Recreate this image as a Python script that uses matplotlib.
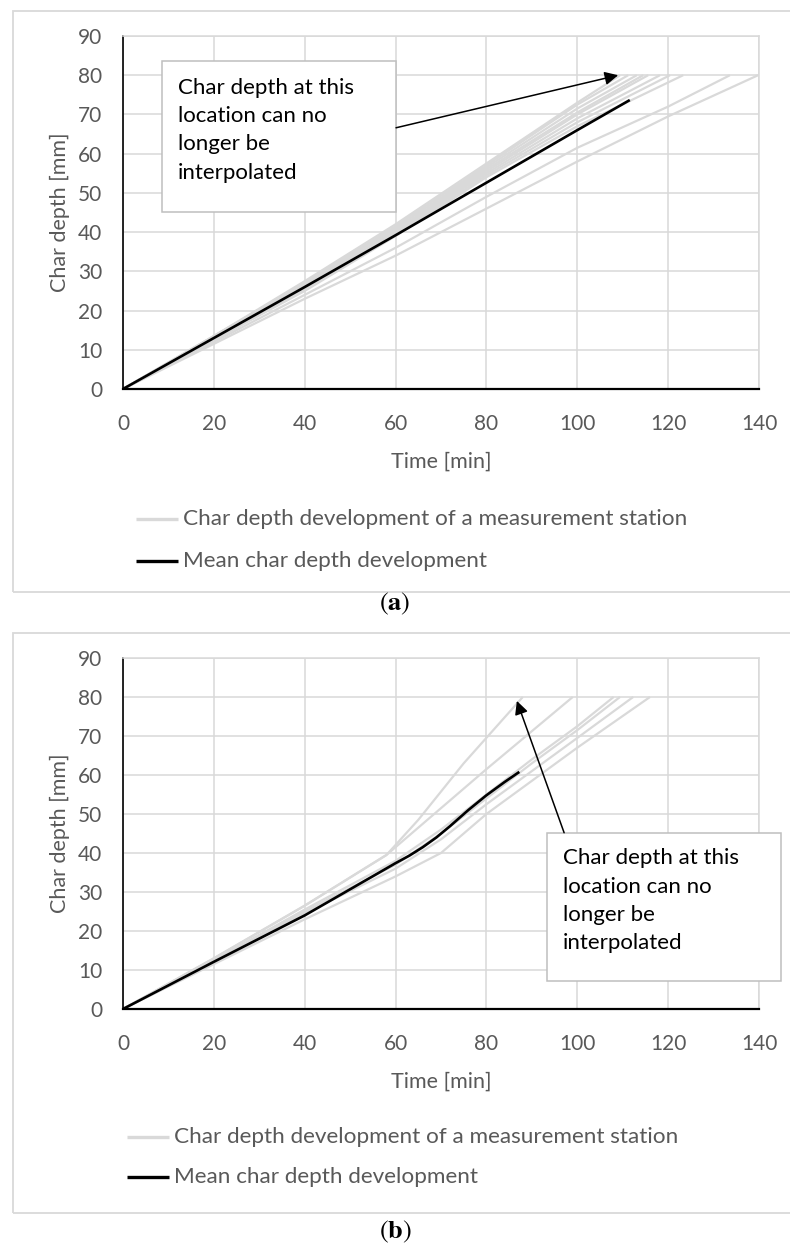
import matplotlib
matplotlib.use('Agg')
import matplotlib.pyplot as plt
from matplotlib.patches import Rectangle
from matplotlib.lines import Line2D

plt.rcParams['font.family'] = ['Lato', 'DejaVu Sans']
plt.rcParams['mathtext.fontset'] = 'stix'

# ---------------- data ----------------
x_ticks = [0, 20, 40, 60, 80, 100, 120, 140]
y_ticks = [0, 10, 20, 30, 40, 50, 60, 70, 80, 90]
x_label = 'Time [min]'
y_label = 'Char depth [mm]'
legend_station = 'Char depth development of a measurement station'
legend_mean = 'Mean char depth development'
note_text = 'Char depth at this\nlocation can no\nlonger be\ninterpolated'

# panel (a): measurement stations
a_station_t = [
    [0, 20, 40, 60, 80, 100, 109.4],
    [0, 20, 40, 60, 80, 100, 111.2],
    [0, 20, 40, 60, 80, 100, 113.1],
    [0, 20, 40, 60, 80, 100, 114.5],
    [0, 20, 40, 60, 80, 100, 115.6],
    [0, 20, 40, 60, 80, 100, 118.2],
    [0, 20, 40, 60, 80, 100, 120.4],
    [0, 20, 40, 60, 80, 100, 123.3],
    [0, 20, 40, 60, 80, 100, 120, 133.6],
    [0, 20, 40, 60, 80, 100, 120, 139.8],
]
a_station_d = [
    [0, 13.5, 27.5, 42.0, 57.5, 73.0, 80],
    [0, 13.5, 27.0, 41.5, 57.0, 72.5, 80],
    [0, 13.5, 27.0, 41.0, 56.5, 71.5, 80],
    [0, 13.0, 26.5, 40.5, 56.0, 70.5, 80],
    [0, 13.0, 26.5, 40.0, 55.5, 70.0, 80],
    [0, 13.0, 26.0, 40.0, 55.0, 69.0, 80],
    [0, 12.5, 25.5, 39.5, 54.5, 68.0, 80],
    [0, 12.5, 25.0, 39.0, 54.0, 67.0, 80],
    [0, 12.0, 24.0, 36.0, 49.0, 61.5, 72.0, 80],
    [0, 11.5, 23.0, 34.0, 46.0, 58.0, 69.5, 80],
]
a_mean_t = [0, 20, 40, 60, 80, 100, 111.3]
a_mean_d = [0, 13.0, 26.0, 39.2, 52.6, 66.0, 73.5]

# panel (b): measurement stations
b_station_t = [
    [0, 20, 40, 58, 65, 75, 88],
    [0, 20, 40, 58, 70, 80, 99],
    [0, 20, 40, 60, 70, 80, 90, 100, 108],
    [0, 20, 40, 60, 70, 80, 90, 100, 109.4],
    [0, 20, 40, 60, 70, 80, 90, 100, 112.3],
    [0, 20, 40, 60, 70, 80, 90, 100, 116],
]
b_station_d = [
    [0, 13.0, 26.5, 39.5, 48.5, 63.0, 80],
    [0, 13.0, 26.5, 39.5, 51.5, 61.5, 80],
    [0, 12.5, 25.5, 38.0, 46.0, 55.0, 64.0, 72.5, 80],
    [0, 12.5, 25.0, 37.0, 45.0, 54.0, 63.0, 71.5, 80],
    [0, 12.0, 24.5, 36.0, 43.5, 52.5, 61.0, 69.5, 80],
    [0, 11.5, 23.0, 34.0, 40.0, 50.0, 58.5, 67.0, 80],
]
b_mean_t = [0, 20, 40, 60, 63, 66, 69, 72, 76, 80, 84, 87]
b_mean_d = [0, 12.1, 24.0, 37.4, 39.3, 41.5, 44.0, 46.9, 51.0, 54.8, 58.2, 60.6]

# annotation anchors (data coords)
a_arrow_tip = (109, 80)
b_arrow_tip = (86.7, 79)

GRAY = '#d9d9d9'
TXT = '#595959'

W, H = 790, 1253
fig = plt.figure(figsize=(W / 100, H / 100), dpi=100)


def fx(px):
    return px / W


def fy(py):
    return 1 - py / H


def panel(top, bottom, st_t, st_d, m_t, m_d):
    ax = fig.add_axes([fx(123), fy(bottom), (759 - 123) / W, (bottom - top) / H])
    for t, d in zip(st_t, st_d):
        ax.plot(t, d, color=GRAY, lw=1.6, solid_capstyle='butt', zorder=2)
    ax.plot(m_t, m_d, color='black', lw=1.9, zorder=3)
    ax.set_xlim(0, 140)
    ax.set_ylim(0, 90)
    ax.set_xticks(x_ticks)
    ax.set_yticks(y_ticks)
    ax.grid(True, color=GRAY, lw=1.1)
    ax.set_axisbelow(True)
    ax.tick_params(length=0, labelsize=15, labelcolor=TXT)
    ax.tick_params(axis='x', pad=18)
    ax.tick_params(axis='y', pad=15)
    ax.spines['left'].set_color('black')
    ax.spines['left'].set_linewidth(1.2)
    ax.spines['bottom'].set_color('black')
    ax.spines['bottom'].set_linewidth(1.6)
    for s in ('top', 'right'):
        ax.spines[s].set_color(GRAY)
        ax.spines[s].set_linewidth(1.1)
    ax.set_xlabel(x_label, fontsize=15.5, color=TXT, labelpad=13)
    ax.set_ylabel(y_label, fontsize=15.5, color=TXT, labelpad=6)
    return ax


def outer_box(top, bottom):
    fig.add_artist(Rectangle((fx(13), fy(bottom)), (800 - 13) / W, (bottom - top) / H,
                             transform=fig.transFigure, fill=False, ec=GRAY, lw=1.3))


def legend_rows(x0, y1, y2):
    for y, c, lab in ((y1, GRAY, legend_station), (y2, 'black', legend_mean)):
        fig.add_artist(Line2D([fx(x0), fx(x0 + 42)], [fy(y), fy(y)], color=c, lw=2.4,
                              transform=fig.transFigure, solid_capstyle='butt'))
        fig.text(fx(x0 + 47), fy(y), lab, fontsize=16.2, color=TXT, va='center', ha='left')


# ---------------- panel (a) ----------------
outer_box(11, 592)
ax_a = panel(36, 389, a_station_t, a_station_d, a_mean_t, a_mean_d)
ax_a.add_patch(Rectangle((8.6, 45.2), 60.1 - 8.6, 83.5 - 45.2, fc='white', ec='#bfbfbf',
                         lw=1.1, zorder=5, clip_on=False))
ax_a.text(12.1, 79.4, note_text, fontsize=16, color='black', va='top', ha='left',
          linespacing=1.52, zorder=6)
ax_a.annotate('', xy=a_arrow_tip, xytext=(60.1, 66.6),
              arrowprops=dict(arrowstyle='-|>', color='black', lw=1.1, mutation_scale=20,
                              shrinkA=0, shrinkB=0), zorder=7, annotation_clip=False)
legend_rows(136, 519, 561)
fig.text(fx(395), fy(604), r'$(\mathbf{a})$', fontsize=19, ha='center', va='center')

# ---------------- panel (b) ----------------
outer_box(633, 1213)
ax_b = panel(658, 1009, b_station_t, b_station_d, b_mean_t, b_mean_d)
ax_b.add_patch(Rectangle((93.3, 7.1), 144.8 - 93.3, 45.2 - 7.1, fc='white', ec='#bfbfbf',
                         lw=1.1, zorder=5, clip_on=False))
ax_b.text(96.9, 41.2, note_text, fontsize=16, color='black', va='top', ha='left',
          linespacing=1.52, zorder=6)
ax_b.annotate('', xy=b_arrow_tip, xytext=(97.1, 45.2),
              arrowprops=dict(arrowstyle='-|>', color='black', lw=1.1, mutation_scale=20,
                              shrinkA=0, shrinkB=0), zorder=7, annotation_clip=False)
legend_rows(127, 1137, 1177)
fig.text(fx(395), fy(1232), r'$(\mathbf{b})$', fontsize=19, ha='center', va='center')

fig.savefig('out.png', dpi=100)
